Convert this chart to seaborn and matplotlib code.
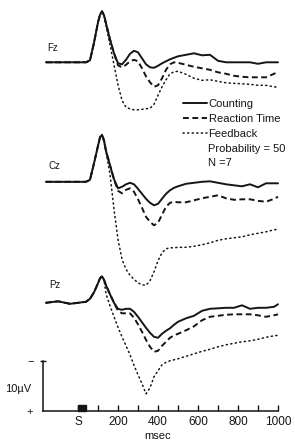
import numpy as np
import pandas as pd
import matplotlib
matplotlib.use("Agg")
import matplotlib.pyplot as plt
from matplotlib.patches import Rectangle
import seaborn as sns

# time points (msec) shared by all traces
t = [-160, -100, -40, 0, 40, 60, 80, 100, 110, 120, 130, 140, 160, 180, 200,
     220, 240, 260, 280, 300, 320, 340, 360, 380, 400, 420, 440, 460, 480, 500,
     540, 580, 620, 660, 700, 740, 780, 820, 860, 900, 940, 980, 1000]

# amplitudes in microvolts (negative up)
fz_counting = [0, 0, 0, 0, 0, -0.4, -3.9, -8.0, -9.5, -10.2, -9.4, -7.8, -4.6, -1.8, 0.2,
               0.4, -0.5, -1.7, -2.3, -2.0, -0.8, 0.4, 1.0, 1.1, 0.7, 0.2, -0.2, -0.6, -0.9, -1.2,
               -1.5, -1.8, -1.4, -1.5, -0.3, 0, 0, 0, 0, 0.3, 0, 0, 0]
fz_reaction = [0, 0, 0, 0, 0, -0.4, -3.9, -8.0, -9.5, -10.2, -9.4, -7.8, -4.6, -1.8, 0.6,
               1.0, 0.5, -0.2, -0.5, -0.2, 1.2, 2.8, 4.0, 4.9, 4.6, 3.2, 1.5, 0.4, 0.0, 0.1,
               0.5, 0.9, 1.2, 1.5, 2.0, 2.3, 2.7, 2.9, 3.0, 3.0, 3.0, 2.3, 1.9]
fz_feedback = [0, 0, 0, 0, 0, -0.4, -3.9, -8.0, -9.5, -10.2, -9.4, -7.3, -3.5, 0.5, 4.5,
               7.6, 9.0, 9.3, 9.5, 9.5, 9.4, 9.3, 9.2, 8.4, 6.6, 4.9, 3.5, 2.3, 1.9, 1.8,
               2.4, 3.2, 3.6, 3.5, 3.8, 4.1, 4.2, 4.3, 4.4, 4.6, 4.6, 4.9, 5.0]

cz_counting = [0, 0, 0, 0, 0, -0.4, -3.7, -7.2, -8.9, -9.4, -8.3, -6.2, -3.3, -0.5, 1.3,
               1.0, 0.5, 0.2, 0.5, 1.4, 2.4, 3.4, 4.2, 4.7, 4.4, 3.4, 2.4, 1.7, 1.2, 0.9,
               0.4, 0.2, 0.0, -0.1, 0.2, 0.5, 0.7, 0.9, 0.5, 1.1, 0.3, 0.3, 0.3]
cz_reaction = [0, 0, 0, 0, 0, -0.4, -3.7, -7.2, -8.9, -9.4, -8.3, -6.2, -3.3, -0.5, 1.8,
               2.3, 1.6, 1.3, 2.0, 3.5, 5.2, 7.0, 8.0, 8.7, 8.2, 6.6, 5.0, 4.2, 4.0, 4.1,
               4.1, 3.7, 3.3, 3.0, 2.7, 3.3, 3.6, 3.5, 3.5, 3.8, 4.0, 3.4, 3.0]
cz_feedback = [0, 0, 0, 0, 0, -0.4, -3.7, -7.2, -8.9, -9.4, -8.0, -6.0, -1.5, 5.5, 11.5,
               15.5, 17.5, 18.7, 19.5, 20.2, 20.6, 20.7, 19.8, 18.0, 15.8, 14.2, 13.4, 13.2, 13.2, 13.1,
               13.1, 12.9, 12.6, 12.2, 11.7, 11.4, 11.2, 11.0, 10.6, 10.3, 10.0, 9.6, 9.5]

pz_counting = [0, -0.3, 0.2, 0, -0.2, -0.8, -2.1, -3.9, -4.9, -5.3, -4.6, -3.5, -1.7, 0.0, 1.2,
               1.4, 1.2, 1.2, 1.8, 2.8, 3.9, 5.0, 6.0, 6.8, 7.0, 6.2, 5.6, 5.1, 4.4, 3.8,
               3.1, 2.6, 1.6, 1.2, 1.1, 1.0, 1.0, 0.5, 1.2, 1.0, 1.0, 0.8, 0.3]
pz_reaction = [0, -0.3, 0.2, 0, -0.2, -0.8, -2.1, -3.9, -4.9, -5.3, -4.6, -3.5, -1.7, 0.0, 1.6,
               2.1, 2.1, 2.1, 3.0, 4.3, 5.8, 7.4, 8.8, 9.8, 9.6, 8.6, 7.8, 7.0, 6.5, 6.2,
               5.5, 4.7, 3.5, 2.8, 2.6, 2.4, 2.3, 2.3, 2.3, 2.5, 2.8, 2.5, 2.3]
pz_feedback = [0, -0.3, 0.2, 0, -0.2, -0.8, -2.1, -3.9, -4.9, -5.3, -4.6, -1.8, 0.6, 2.8, 4.9,
               6.8, 8.6, 10.4, 12.5, 14.4, 16.2, 18.2, 17.0, 14.8, 13.6, 12.4, 11.9, 11.6, 11.4, 11.2,
               10.7, 10.2, 9.7, 9.3, 8.8, 8.4, 8.1, 7.8, 7.6, 7.3, 6.9, 6.6, 6.5]

sites = ["Fz", "Cz", "Pz"]
conditions = ["Counting", "Reaction Time", "Feedback"]
traces = {
    ("Fz", "Counting"): fz_counting, ("Fz", "Reaction Time"): fz_reaction, ("Fz", "Feedback"): fz_feedback,
    ("Cz", "Counting"): cz_counting, ("Cz", "Reaction Time"): cz_reaction, ("Cz", "Feedback"): cz_feedback,
    ("Pz", "Counting"): pz_counting, ("Pz", "Reaction Time"): pz_reaction, ("Pz", "Feedback"): pz_feedback,
}
xticks = [0, 100, 200, 300, 400, 500, 600, 700, 800, 900, 1000]
xticklabels = ["S", "", "200", "", "400", "", "600", "", "800", "", "1000"]

# layout (vertical stacking of the sites, in microvolts)
offset = {"Fz": 0.0, "Cz": 23.9, "Pz": 48.1}
axis_y = 69.7
bar_x = -175
stim_on, stim_dur = 0, 40

rows = []
for (site, cond), vals in traces.items():
    for ms, uv in zip(t, vals):
        rows.append({"site": site, "cond": cond, "ms": ms, "y": uv + offset[site]})
df = pd.DataFrame(rows)

sns.set_theme(style="white")
plt.rcParams["font.family"] = ["Liberation Sans", "DejaVu Sans"]

W, H = 295, 444
fig = plt.figure(figsize=(W / 100, H / 100), dpi=100)
ax = fig.add_axes([0, 0, 1, 1])

def xd(px):
    return (px - 78) * 5

def yd(py):
    return (py - 62.3) / 5

ink = "#151515"
line_kw = {
    "Counting": dict(linestyle="-", linewidth=1.4),
    "Reaction Time": dict(linestyle=(0, (3, 1.8)), linewidth=1.4),
    "Feedback": dict(linestyle=(0, (0.8, 2.2)), linewidth=1.1, dash_capstyle="round"),
}
for site in sites:
    for cond in conditions:
        sub = df[(df.site == site) & (df.cond == cond)]
        sns.lineplot(data=sub, x="ms", y="y", ax=ax, color=ink,
                     label=cond if site == "Fz" else None, **line_kw[cond])

ax.set_xlim(xd(0), xd(W))
ax.set_ylim(yd(H), yd(0))

for s in ["top", "right"]:
    ax.spines[s].set_visible(False)
ax.spines["bottom"].set_position(("data", axis_y))
ax.spines["bottom"].set_bounds(bar_x, 1000)
ax.spines["left"].set_position(("data", bar_x))
ax.spines["left"].set_bounds(axis_y - 10, axis_y)
for s in ["bottom", "left"]:
    ax.spines[s].set_color(ink)
    ax.spines[s].set_linewidth(1.1)

ax.set_xticks(xticks)
ax.set_xticklabels(xticklabels)
ax.tick_params(axis="x", bottom=True, direction="in", length=4, width=1, color=ink,
               labelsize=8.5, pad=4, labelcolor=ink)
ax.set_yticks([axis_y - 10])
ax.set_yticklabels([""])
ax.tick_params(axis="y", left=True, direction="inout", length=4, width=1, color=ink)
ax.set_xlabel("")
ax.set_ylabel("")

ax.add_patch(Rectangle((stim_on, axis_y), stim_dur, -1.2, color=ink))

ax.text(xd(158), yd(436), "msec", ha="center", va="center", fontsize=8, color=ink)
ax.text(xd(18), yd(389), "10\u00b5V", ha="center", va="center", fontsize=8, color=ink)
ax.text(xd(31), yd(361), "\u2212", ha="center", va="center", fontsize=8, color=ink)
ax.text(xd(30), yd(412), "+", ha="center", va="center", fontsize=8, color=ink)

for site, (px, py) in zip(sites, [(53, 48), (54, 166), (55, 285)]):
    ax.text(xd(px), yd(py), site, ha="center", va="center", fontsize=7, color=ink)

leg = ax.legend(loc="upper left", bbox_to_anchor=(183 / W, 1 - 99 / H), frameon=False,
                fontsize=8, handlelength=2.2, handletextpad=0.1, borderpad=0,
                borderaxespad=0, labelspacing=0.45)
for txt in leg.get_texts():
    txt.set_color(ink)
ax.text(xd(208), yd(149), "Probability = 50", ha="left", va="center", fontsize=8, color=ink)
ax.text(xd(208), yd(163), "N =7", ha="left", va="center", fontsize=8, color=ink)

fig.savefig("out.png", dpi=100, facecolor="white")
